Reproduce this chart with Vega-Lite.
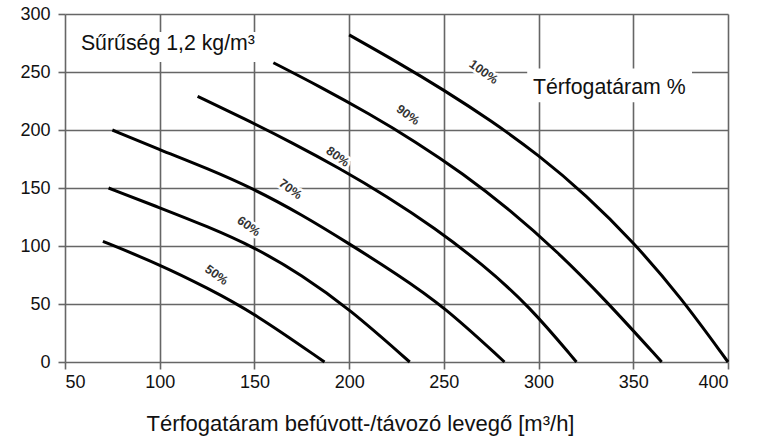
{
  "$schema": "https://vega.github.io/schema/vega-lite/v6.json",
  "width": 663,
  "height": 348,
  "autosize": {"type": "none"},
  "padding": {"left": 65, "top": 14, "right": 30, "bottom": 76},
  "background": "white",
  "config": {
    "view": {"stroke": null},
    "font": "Liberation Sans",
    "axis": {
      "domain": false,
      "grid": true,
      "gridColor": "#666666",
      "gridWidth": 1.6,
      "tickColor": "#666666",
      "tickWidth": 1.6,
      "tickSize": 7,
      "labelFont": "Liberation Sans",
      "labelFontSize": 18,
      "labelColor": "#111111",
      "titleFont": "Liberation Sans",
      "titleFontWeight": "normal",
      "titleColor": "#111111"
    }
  },
  "datasets": {
    "curves": [
      {"pct": "100%", "flow": 200, "pressure": 282},
      {"pct": "100%", "flow": 225, "pressure": 259},
      {"pct": "100%", "flow": 250, "pressure": 234.5},
      {"pct": "100%", "flow": 275, "pressure": 208},
      {"pct": "100%", "flow": 300, "pressure": 178.5},
      {"pct": "100%", "flow": 325, "pressure": 144},
      {"pct": "100%", "flow": 350, "pressure": 103.5},
      {"pct": "100%", "flow": 375, "pressure": 56},
      {"pct": "100%", "flow": 400, "pressure": 0},
      {"pct": "90%", "flow": 160, "pressure": 258},
      {"pct": "90%", "flow": 185, "pressure": 237},
      {"pct": "90%", "flow": 210, "pressure": 214.5},
      {"pct": "90%", "flow": 235, "pressure": 190},
      {"pct": "90%", "flow": 260, "pressure": 162.5},
      {"pct": "90%", "flow": 285, "pressure": 131},
      {"pct": "90%", "flow": 310, "pressure": 95},
      {"pct": "90%", "flow": 335, "pressure": 54},
      {"pct": "90%", "flow": 365, "pressure": 0},
      {"pct": "80%", "flow": 120, "pressure": 229},
      {"pct": "80%", "flow": 145, "pressure": 209.5},
      {"pct": "80%", "flow": 170, "pressure": 189},
      {"pct": "80%", "flow": 195, "pressure": 167},
      {"pct": "80%", "flow": 220, "pressure": 142.75},
      {"pct": "80%", "flow": 245, "pressure": 115.75},
      {"pct": "80%", "flow": 270, "pressure": 84.75},
      {"pct": "80%", "flow": 295, "pressure": 48.5},
      {"pct": "80%", "flow": 320, "pressure": 0},
      {"pct": "70%", "flow": 75, "pressure": 200},
      {"pct": "70%", "flow": 100, "pressure": 183},
      {"pct": "70%", "flow": 125, "pressure": 167},
      {"pct": "70%", "flow": 150, "pressure": 149},
      {"pct": "70%", "flow": 175, "pressure": 127},
      {"pct": "70%", "flow": 200, "pressure": 102},
      {"pct": "70%", "flow": 225, "pressure": 76},
      {"pct": "70%", "flow": 250, "pressure": 48},
      {"pct": "70%", "flow": 282, "pressure": 0},
      {"pct": "60%", "flow": 73, "pressure": 150},
      {"pct": "60%", "flow": 100, "pressure": 133},
      {"pct": "60%", "flow": 125, "pressure": 117},
      {"pct": "60%", "flow": 150, "pressure": 99},
      {"pct": "60%", "flow": 175, "pressure": 75},
      {"pct": "60%", "flow": 200, "pressure": 46},
      {"pct": "60%", "flow": 232, "pressure": 0},
      {"pct": "50%", "flow": 70, "pressure": 104},
      {"pct": "50%", "flow": 100, "pressure": 84},
      {"pct": "50%", "flow": 125, "pressure": 64},
      {"pct": "50%", "flow": 150, "pressure": 42},
      {"pct": "50%", "flow": 187, "pressure": 0}
    ],
    "labels": [
      {"pct": "100%", "flow": 271, "pressure": 250},
      {"pct": "90%", "flow": 231, "pressure": 213},
      {"pct": "80%", "flow": 194, "pressure": 177},
      {"pct": "70%", "flow": 169, "pressure": 149},
      {"pct": "60%", "flow": 147, "pressure": 117},
      {"pct": "50%", "flow": 130, "pressure": 75}
    ],
    "boxes": [
      {"note": "Sűrűség 1,2 kg/m³", "flow": 51.5, "flow2": 155, "pressure": 258.6, "pressure2": 284.5, "textFlow": 58.4, "textPressure": 274},
      {"note": "Térfogatáram %", "flow": 294, "flow2": 381, "pressure": 224, "pressure2": 253, "textFlow": 297, "textPressure": 236}
    ]
  },
  "encoding": {
    "x": {
      "field": "flow",
      "type": "quantitative",
      "scale": {"domain": [50, 400], "nice": false, "zero": false},
      "axis": {
        "values": [50, 100, 150, 200, 250, 300, 350, 400],
        "labelPadding": 4,
        "title": "Térfogatáram befúvott-/távozó levegő [m³/h]",
        "titleFontSize": 22,
        "titleAnchor": "start",
        "titleAlign": "left",
        "titleX": 81,
        "titleY": 68,
        "titleBaseline": "alphabetic"
      }
    },
    "y": {
      "field": "pressure",
      "type": "quantitative",
      "scale": {"domain": [0, 300], "nice": false},
      "axis": {
        "values": [0, 50, 100, 150, 200, 250, 300],
        "labelPadding": 8,
        "title": null
      }
    }
  },
  "layer": [
    {
      "data": {"name": "boxes"},
      "mark": {"type": "rect", "color": "white"},
      "encoding": {
        "x2": {"field": "flow2"},
        "y2": {"field": "pressure2"}
      }
    },
    {
      "data": {"name": "curves"},
      "mark": {"type": "line", "color": "black", "strokeWidth": 3, "interpolate": "basis"},
      "encoding": {"detail": {"field": "pct"}}
    },
    {
      "data": {"name": "labels"},
      "mark": {"type": "text", "font": "Liberation Sans", "fontSize": 12.5, "fontWeight": "bold", "angle": 36, "color": "white", "stroke": "white", "strokeWidth": 5},
      "encoding": {"text": {"field": "pct"}}
    },
    {
      "data": {"name": "labels"},
      "mark": {"type": "text", "font": "Liberation Sans", "fontSize": 12.5, "fontWeight": "bold", "angle": 36, "color": "#333333"},
      "encoding": {"text": {"field": "pct"}}
    },
    {
      "data": {"name": "boxes"},
      "mark": {"type": "text", "font": "Liberation Sans", "fontSize": 21.3, "align": "left", "baseline": "middle", "color": "#111111"},
      "encoding": {
        "x": {"field": "textFlow", "type": "quantitative"},
        "y": {"field": "textPressure", "type": "quantitative"},
        "text": {"field": "note"}
      }
    }
  ]
}
